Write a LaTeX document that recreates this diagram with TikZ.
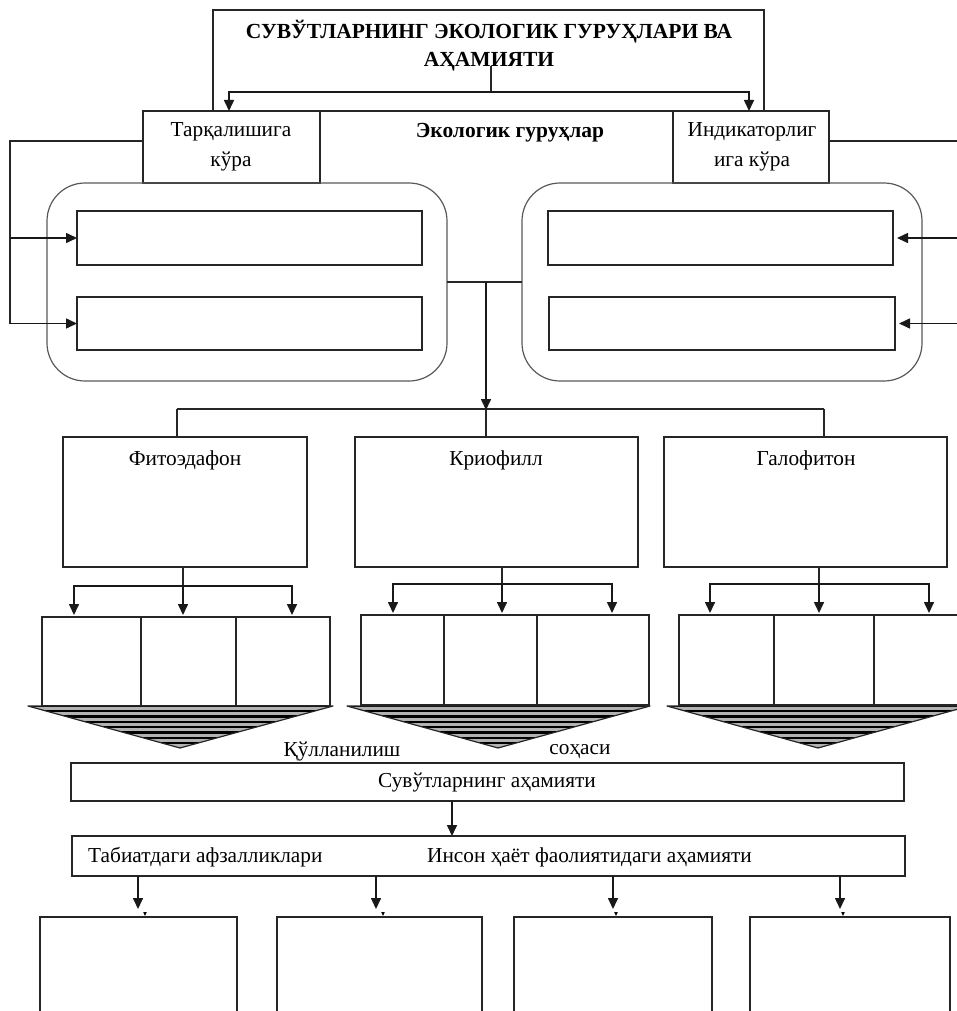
\documentclass[tikz,border=0pt]{standalone}
\usepackage{fontspec}
\setmainfont{Liberation Serif}
\usetikzlibrary{arrows.meta,calc}
\begin{document}
\begin{tikzpicture}[x=1pt,y=-1pt,
  box/.style={draw=black!85,line width=1.2pt,inner sep=0pt,outer sep=0pt,anchor=north west},
  rbox/.style={box,draw=black!65,rounded corners=38pt},
  ln/.style={draw=black!85,line width=1.2pt},
  arr/.style={draw=black!90,line width=1.6pt,-{Triangle[length=11pt,width=10pt]}},
  txt/.style={inner sep=0pt,font=\fontsize{21.3}{25}\selectfont},
  btxt/.style={txt,font=\fontsize{21.5}{25}\selectfont\bfseries}]
\useasboundingbox (0,0) rectangle (957,1011);

% ---- title
\node[box,minimum width=551pt,minimum height=101pt] (title) at (213,10) {};
\node[btxt] (t1) at (489,32) {СУВЎТЛАРНИНГ ЭКОЛОГИК ГУРУҲЛАРИ ВА};
\node[btxt] (t2) at (489,62) {АҲАМИЯТИ};
\coordinate (ts) at (491,66);
\coordinate (tj) at (491,92);
\coordinate (ta) at (229,111);
\coordinate (tb) at (749,111);
\draw[ln] (ts) -- (tj);
\draw[arr] (tj) -| (ta);
\draw[arr] (tj) -| (tb);

% ---- band
\node[box,minimum width=177pt,minimum height=72pt] (lk) at (143,111) {};
\node[box,minimum width=156pt,minimum height=72pt] (rk) at (673,111) {};
\draw[ln] (lk.north west) -- (rk.north east);
\node[txt] (lk1) at (231,132) {Тарқалишига};
\node[txt] (lk2) at (231,162) {кўра};
\node[txt] (rk1) at (752,132) {Индикаторлиг};
\node[txt] (rk2) at (752,162) {ига кўра};
\node[btxt] (eg) at (510,133) {Экологик гуруҳлар};

% ---- rounded groups
\node[rbox,minimum width=400pt,minimum height=198pt] (lr) at (47,183) {};
\node[rbox,minimum width=400pt,minimum height=198pt] (rr) at (522,183) {};
\node[box,minimum width=345pt,minimum height=54pt] (l1) at (77,211) {};
\node[box,minimum width=345pt,minimum height=53pt] (l2) at (77,297) {};
\node[box,minimum width=345pt,minimum height=54pt] (r1) at (548,211) {};
\node[box,minimum width=346pt,minimum height=53pt] (r2) at (549,297) {};

% left bracket
\coordinate (lb) at (10,141);
\draw[ln] (lk.west |- lb) -- (lb) -- (lb |- l2.west);
\draw[arr] (lb |- l1.west) -- (l1.west);
\draw[arr] (lb |- l2.west) -- (l2.west);
% right bracket
\coordinate (rb) at (962,141);
\draw[ln] (rk.east |- rb) -- (rb) -- (rb |- r2.east);
\draw[arr] (rb |- r1.east) -- ([xshift=4pt]r1.east);
\draw[arr] (rb |- r2.east) -- ([xshift=4pt]r2.east);

% middle connector
\coordinate (mj) at (486,282);
\coordinate (hj) at (486,409);
\coordinate (hl) at (177,409);
\coordinate (hr) at (824,409);
\draw[ln] (lr.east) -- (rr.west);
\draw[ln] (hl) -- (hr);

% ---- three category boxes
\node[box,minimum width=244pt,minimum height=130pt] (fit) at (63,437) {};
\node[box,minimum width=283pt,minimum height=130pt] (kr) at (355,437) {};
\node[box,minimum width=283pt,minimum height=130pt] (gal) at (664,437) {};
\node[txt] (fitt) at (185,460) {Фитоэдафон};
\node[txt] (krt) at (496,460) {Криофилл};
\node[txt] (galt) at (806,460) {Галофитон};
\draw[ln] (hl) -- (hl |- fit.north);
\draw[ln] (hr) -- (hr |- gal.north);
\draw[ln] (hj) -- (hj |- kr.north);
\draw[arr] (mj) -- ([yshift=-1pt]hj);

% ---- triple cells
\node[box,minimum width=288pt,minimum height=89pt] (tl) at (42,617) {};
\node[box,minimum width=288pt,minimum height=90pt] (tm) at (361,615) {};
\node[box,minimum width=290pt,minimum height=90pt] (tr) at (679,615) {};
\foreach \n/\a/\b in {tl/99/194, tm/83/176, tr/95/195}{
  \draw[ln] ($(\n.north west)+(\a,0)$) -- ($(\n.south west)+(\a,0)$);
  \draw[ln] ($(\n.north west)+(\b,0)$) -- ($(\n.south west)+(\b,0)$);
}

% distribution arrows
\coordinate (fj) at (183,586);
\coordinate (fa) at (74,586);
\coordinate (fb) at (292,586);
\draw[ln] (fit.south -| fj) -- (fj);
\draw[arr,shorten >=2pt] (fj) -- (fj |- tl.north);
\draw[arr,shorten >=2pt] (fj) -| (fa |- tl.north);
\draw[arr,shorten >=2pt] (fj) -| (fb |- tl.north);

\coordinate (kj) at (502,584);
\coordinate (ka) at (393,584);
\coordinate (kb) at (612,584);
\draw[ln] (kr.south -| kj) -- (kj);
\draw[arr,shorten >=2pt] (kj) -- (kj |- tm.north);
\draw[arr,shorten >=2pt] (kj) -| (ka |- tm.north);
\draw[arr,shorten >=2pt] (kj) -| (kb |- tm.north);

\coordinate (gj) at (819,584);
\coordinate (ga) at (710,584);
\coordinate (gb) at (929,584);
\draw[ln] (gal.south -| gj) -- (gj);
\draw[arr,shorten >=2pt] (gj) -- (gj |- tr.north);
\draw[arr,shorten >=2pt] (gj) -| (ga |- tr.north);
\draw[arr,shorten >=2pt] (gj) -| (gb |- tr.north);

% ---- striped triangles
\foreach \xl/\xr/\xa in {28/333/180, 347/650/498, 667/969/818}{
  \begin{scope}
    \clip (\xl,706) -- (\xr,706) -- (\xa,748) -- cycle;
    \fill[black!30] (\xl,700) rectangle (\xr,750);
    \foreach \k in {0,...,8}{
      \draw[black,line width=2.3pt] (\xl,706+\k*5.3) -- (\xr,706+\k*5.3);
    }
  \end{scope}
  \draw[ln,line join=round] (\xl,706) -- (\xr,706) -- (\xa,748) -- cycle;
}

\node[txt] (qu) at (342,751) {Қўлланилиш};
\node[txt] (so) at (580,752) {соҳаси};

% ---- importance
\node[box,minimum width=833pt,minimum height=38pt] (ah) at (71,763) {};
\node[txt] (aht) at (487,782) {Сувўтларнинг аҳамияти};
\node[box,minimum width=833pt,minimum height=40pt] (ab) at (72,836) {};
\node[txt,anchor=west] (abt1) at (88,857) {Табиатдаги афзалликлари};
\node[txt,anchor=west] (abt2) at (427,857) {Инсон ҳаёт фаолиятидаги аҳамияти};
\coordinate (aj) at (452,801);
\draw[arr] (aj) -- (aj |- ab.north);

% ---- bottom boxes
\node[box,minimum width=197pt,minimum height=120pt] (b1) at (40,917) {};
\node[box,minimum width=205pt,minimum height=120pt] (b2) at (277,917) {};
\node[box,minimum width=198pt,minimum height=120pt] (b3) at (514,917) {};
\node[box,minimum width=200pt,minimum height=120pt] (b4) at (750,917) {};
\foreach \x/\b/\t in {138/b1/145, 376/b2/383, 613/b3/616, 840/b4/843}{
  \draw[arr] (\x,876) -- (\x,909);
  \fill[black] (\t-1.8,912) -- (\t+1.8,912) -- (\t,916) -- cycle;
}
\end{tikzpicture}
\end{document}
